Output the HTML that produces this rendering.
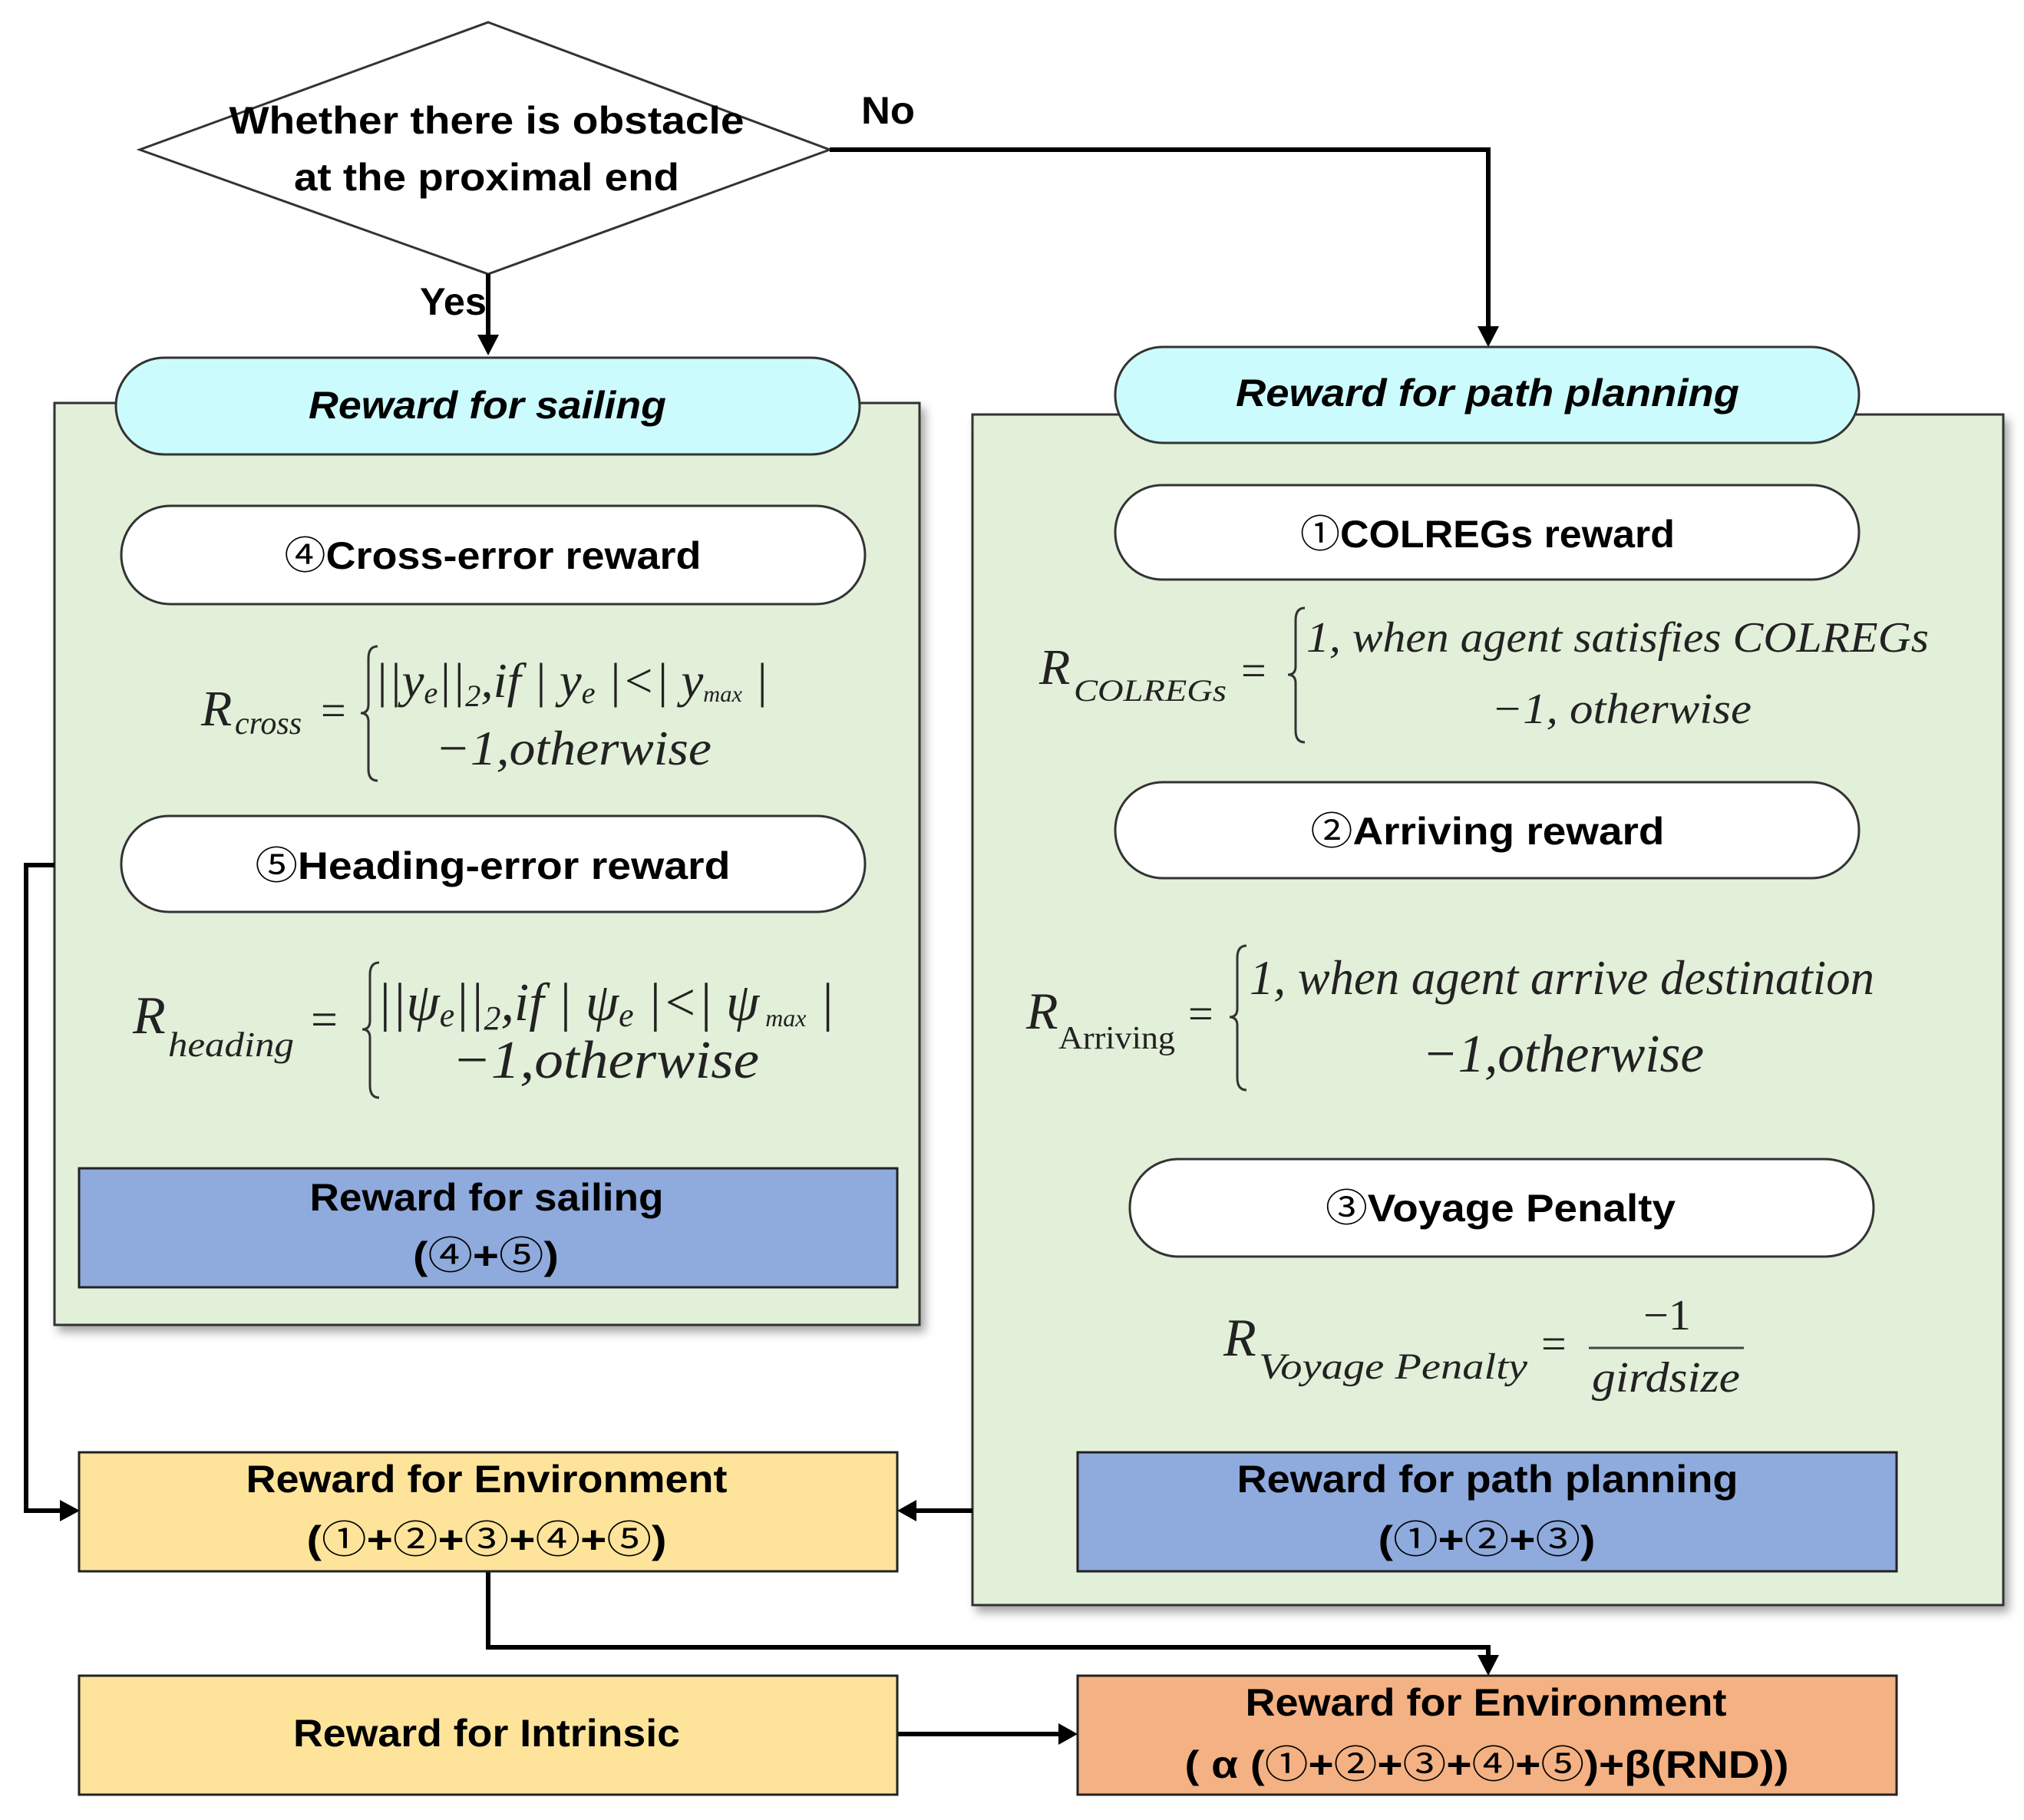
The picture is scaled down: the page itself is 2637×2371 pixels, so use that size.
<!DOCTYPE html>
<html><head><meta charset="utf-8"><style>
html,body{margin:0;padding:0;background:#fff;}
svg{display:block;}
.b{font-family:"Liberation Sans","DejaVu Sans",sans-serif;font-weight:bold;font-size:50px;fill:#000;}
.bi{font-family:"Liberation Sans","DejaVu Sans",sans-serif;font-weight:bold;font-style:italic;font-size:50px;fill:#000;}
.m{font-family:"Liberation Serif","DejaVu Serif",serif;font-style:italic;fill:#222;}
.mu{font-family:"Liberation Serif","DejaVu Serif",serif;fill:#222;}
.c{font-family:"Noto Sans CJK SC","WenQuanYi Zen Hei",sans-serif;font-weight:normal;}
</style></head><body>
<svg width="2637" height="2371" viewBox="0 0 2637 2371" xmlns="http://www.w3.org/2000/svg">
<defs>
<filter id="sh" x="-5%" y="-5%" width="115%" height="115%"><feDropShadow dx="6" dy="8" stdDeviation="6" flood-color="#000" flood-opacity="0.35"/></filter>
</defs>
<rect x="71" y="525" width="1127" height="1201" fill="#e2efd9" stroke="#333" stroke-width="3" filter="url(#sh)"/>
<rect x="1267" y="540" width="1343" height="1551" fill="#e2efd9" stroke="#333" stroke-width="3" filter="url(#sh)"/>

<polygon points="636,29 1081,195 636,357 182,195" fill="#fff" stroke="#333" stroke-width="3"/>
<text class="b" x="634" y="174" text-anchor="middle" textLength="671" lengthAdjust="spacingAndGlyphs">Whether there is  obstacle</text>
<text class="b" x="634" y="248" text-anchor="middle" textLength="502" lengthAdjust="spacingAndGlyphs">at the proximal end</text>
<text class="b" x="1122" y="161" textLength="70" lengthAdjust="spacingAndGlyphs">No</text>
<text class="b" x="547" y="410" textLength="87" lengthAdjust="spacingAndGlyphs">Yes</text>

<g stroke="#000" stroke-width="6" fill="none">
<polyline points="1081,195 1939,195 1939,425"/>
<polyline points="636,357 636,436"/>
<polyline points="71,1127 34,1127 34,1968 80,1968"/>
<polyline points="1267,1968 1192,1968"/>
<polyline points="636,2047 636,2146 1939,2146 1939,2160"/>
<polyline points="1169,2259 1381,2259"/>
</g>
<g fill="#000">
<polygon points="1925,425 1953,425 1939,452"/>
<polygon points="622,436 650,436 636,463"/>
<polygon points="78,1954 78,1982 104,1968"/>
<polygon points="1194,1954 1194,1982 1169,1968"/>
<polygon points="1925,2156 1953,2156 1939,2183"/>
<polygon points="1379,2245 1379,2273 1404,2259"/>
</g>

<rect x="151" y="466" width="969" height="126" rx="63" fill="#ccfbfd" stroke="#333" stroke-width="3"/>
<text class="bi" x="635" y="545" text-anchor="middle" textLength="466" lengthAdjust="spacingAndGlyphs">Reward for sailing</text>
<rect x="158" y="659" width="969" height="128" rx="64" fill="#fff" stroke="#333" stroke-width="3"/>
<text class="b" x="642" y="741" text-anchor="middle" textLength="543" lengthAdjust="spacingAndGlyphs"><tspan class="c">④</tspan>Cross-error reward</text>
<rect x="158" y="1063" width="969" height="125" rx="62" fill="#fff" stroke="#333" stroke-width="3"/>
<text class="b" x="642" y="1145" text-anchor="middle" textLength="619" lengthAdjust="spacingAndGlyphs"><tspan class="c">⑤</tspan>Heading-error reward</text>

<text class="m" x="262" y="945" font-size="66">R</text>
<text class="m" x="306" y="956" font-size="42">cross</text>
<text class="mu" x="418" y="945" font-size="58">=</text>
<path d="M492,842 Q480,842 480,858 L480,918 Q480,929 470,929 Q480,929 480,940 L480,1002 Q480,1017 492,1017" stroke="#333" stroke-width="3" fill="none"/>
<text class="m" x="488" y="908" font-size="64" textLength="513" lengthAdjust="spacingAndGlyphs">||<tspan>y</tspan><tspan font-size="40" dy="8">e</tspan><tspan dy="-8">||</tspan><tspan class="mu" font-size="40" dy="12">2</tspan><tspan dy="-12">,if | y</tspan><tspan font-size="40" dy="8">e</tspan><tspan dy="-8"> |&lt;| y</tspan><tspan class="mu" font-size="30" dy="6">max</tspan><tspan dy="-6"> |</tspan></text>
<text class="m" x="567" y="996" font-size="64" textLength="360" lengthAdjust="spacingAndGlyphs"><tspan class="mu">−1,</tspan>otherwise</text>

<text class="m" x="173" y="1346" font-size="70">R</text>
<text class="m" x="219" y="1376" font-size="46" textLength="164" lengthAdjust="spacingAndGlyphs">heading</text>
<text class="mu" x="405" y="1349" font-size="62">=</text>
<path d="M494,1254 Q482,1254 482,1270 L482,1330 Q482,1341 472,1341 Q482,1341 482,1352 L482,1414 Q482,1430 494,1430" stroke="#333" stroke-width="3" fill="none"/>
<text class="m" x="491" y="1329" font-size="70" textLength="596" lengthAdjust="spacingAndGlyphs">||ψ<tspan font-size="44" dy="8">e</tspan><tspan dy="-8">||</tspan><tspan class="mu" font-size="44" dy="12">2</tspan><tspan dy="-12">,if | ψ</tspan><tspan font-size="44" dy="8">e</tspan><tspan dy="-8"> |&lt;| ψ</tspan><tspan class="mu" font-size="32" dy="8"> max</tspan><tspan dy="-8"> |</tspan></text>
<text class="m" x="589" y="1404" font-size="70" textLength="400" lengthAdjust="spacingAndGlyphs"><tspan class="mu">−1,</tspan>otherwise</text>

<rect x="103" y="1522" width="1066" height="155" fill="#8faadc" stroke="#222" stroke-width="3"/>
<text class="b" x="634" y="1577" text-anchor="middle" textLength="461" lengthAdjust="spacingAndGlyphs">Reward for sailing</text>
<text class="b" x="633" y="1653" text-anchor="middle" textLength="190" lengthAdjust="spacingAndGlyphs">(<tspan class="c">④</tspan>+<tspan class="c">⑤</tspan>)</text>

<rect x="1453" y="452" width="969" height="125" rx="62" fill="#ccfbfd" stroke="#333" stroke-width="3"/>
<text class="bi" x="1938" y="529" text-anchor="middle" textLength="656" lengthAdjust="spacingAndGlyphs">Reward for path planning</text>
<rect x="1453" y="632" width="969" height="123" rx="61" fill="#fff" stroke="#333" stroke-width="3"/>
<text class="b" x="1938" y="713" text-anchor="middle" textLength="488" lengthAdjust="spacingAndGlyphs"><tspan class="c">①</tspan>COLREGs reward</text>
<rect x="1453" y="1019" width="969" height="125" rx="62" fill="#fff" stroke="#333" stroke-width="3"/>
<text class="b" x="1938" y="1100" text-anchor="middle" textLength="461" lengthAdjust="spacingAndGlyphs"><tspan class="c">②</tspan>Arriving reward</text>
<rect x="1472" y="1510" width="969" height="127" rx="63" fill="#fff" stroke="#333" stroke-width="3"/>
<text class="b" x="1955" y="1591" text-anchor="middle" textLength="456" lengthAdjust="spacingAndGlyphs"><tspan class="c">③</tspan>Voyage Penalty</text>

<text class="m" x="1354" y="891" font-size="66">R</text>
<text class="m" x="1399" y="913" font-size="40" textLength="199" lengthAdjust="spacingAndGlyphs">COLREGs</text>
<text class="mu" x="1617" y="893" font-size="58">=</text>
<path d="M1700,792 Q1688,792 1688,808 L1688,868 Q1688,879 1678,879 Q1688,879 1688,890 L1688,952 Q1688,967 1700,967" stroke="#333" stroke-width="3" fill="none"/>
<text class="m" x="1702" y="849" font-size="56" textLength="811" lengthAdjust="spacingAndGlyphs"><tspan class="mu">1,</tspan> when agent satisfies COLREGs</text>
<text class="m" x="1943" y="942" font-size="56" textLength="339" lengthAdjust="spacingAndGlyphs"><tspan class="mu">−1,</tspan> otherwise</text>

<text class="m" x="1337" y="1340" font-size="68">R</text>
<text class="mu" x="1379" y="1366" font-size="42" textLength="152" lengthAdjust="spacingAndGlyphs">Arriving</text>
<text class="mu" x="1548" y="1340" font-size="58">=</text>
<path d="M1624,1232 Q1612,1232 1612,1248 L1612,1314 Q1612,1325 1602,1325 Q1612,1325 1612,1336 L1612,1404 Q1612,1420 1624,1420" stroke="#333" stroke-width="3" fill="none"/>
<text class="m" x="1628" y="1295" font-size="64" textLength="814" lengthAdjust="spacingAndGlyphs"><tspan class="mu">1,</tspan> when agent arrive destination</text>
<text class="m" x="1853" y="1396" font-size="70" textLength="367" lengthAdjust="spacingAndGlyphs"><tspan class="mu">−1,</tspan>otherwise</text>

<text class="m" x="1594" y="1766" font-size="70">R</text>
<text class="m" x="1640" y="1796" font-size="48" textLength="350" lengthAdjust="spacingAndGlyphs">Voyage Penalty</text>
<text class="mu" x="2008" y="1770" font-size="58">=</text>
<line x1="2070" y1="1756" x2="2272" y2="1756" stroke="#444" stroke-width="3"/>
<text class="mu" x="2141" y="1732" font-size="56" textLength="62" lengthAdjust="spacingAndGlyphs">−1</text>
<text class="m" x="2074" y="1813" font-size="56" textLength="193" lengthAdjust="spacingAndGlyphs">girdsize</text>

<rect x="1404" y="1892" width="1067" height="155" fill="#8faadc" stroke="#222" stroke-width="3"/>
<text class="b" x="1938" y="1944" text-anchor="middle" textLength="653" lengthAdjust="spacingAndGlyphs">Reward for path planning</text>
<text class="b" x="1937" y="2023" text-anchor="middle" textLength="283" lengthAdjust="spacingAndGlyphs">(<tspan class="c">①</tspan>+<tspan class="c">②</tspan>+<tspan class="c">③</tspan>)</text>

<rect x="103" y="1892" width="1066" height="155" fill="#fee49a" stroke="#222" stroke-width="3"/>
<text class="b" x="634" y="1944" text-anchor="middle" textLength="627" lengthAdjust="spacingAndGlyphs">Reward for Environment</text>
<text class="b" x="634" y="2023" text-anchor="middle" textLength="469" lengthAdjust="spacingAndGlyphs">(<tspan class="c">①</tspan>+<tspan class="c">②</tspan>+<tspan class="c">③</tspan>+<tspan class="c">④</tspan>+<tspan class="c">⑤</tspan>)</text>

<rect x="103" y="2183" width="1066" height="155" fill="#fee49a" stroke="#222" stroke-width="3"/>
<text class="b" x="634" y="2275" text-anchor="middle" textLength="504" lengthAdjust="spacingAndGlyphs">Reward for Intrinsic</text>

<rect x="1404" y="2183" width="1067" height="155" fill="#f4b183" stroke="#222" stroke-width="3"/>
<text class="b" x="1936" y="2235" text-anchor="middle" textLength="627" lengthAdjust="spacingAndGlyphs">Reward for Environment</text>
<text class="b" x="1937" y="2316" text-anchor="middle" textLength="787" lengthAdjust="spacingAndGlyphs">( α (<tspan class="c">①</tspan>+<tspan class="c">②</tspan>+<tspan class="c">③</tspan>+<tspan class="c">④</tspan>+<tspan class="c">⑤</tspan>)+β(RND))</text>
</svg>
</body></html>
